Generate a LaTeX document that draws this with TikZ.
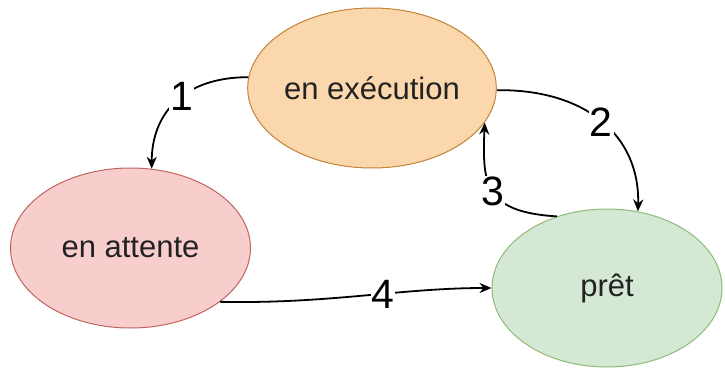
\documentclass[tikz,border=0pt]{standalone}
\usepackage{fontspec}
\setmainfont{Liberation Sans}
\usetikzlibrary{shapes.geometric,arrows.meta}
\definecolor{exfill}{HTML}{FAD7AC}
\definecolor{exdraw}{HTML}{B46504}
\definecolor{atfill}{HTML}{F8CECC}
\definecolor{atdraw}{HTML}{B85450}
\definecolor{prfill}{HTML}{D5E8D4}
\definecolor{prdraw}{HTML}{82B366}
\definecolor{txt}{HTML}{222222}
\tikzset{
  state/.style={ellipse, inner sep=0pt, line width=1pt, text=txt,
    font=\fontsize{31}{31}\selectfont},
  edge/.style={line width=1.8pt, -{Stealth[length=12pt,width=10pt]}},
  lbl/.style={fill=white, inner sep=1pt, font=\fontsize{41}{41}\selectfont}
}
\begin{document}
\begin{tikzpicture}[x=1pt,y=-1pt]
\useasboundingbox (0,0) rectangle (725,369);
\node[state, draw=exdraw!80, fill=exfill, minimum width=240pt, minimum height=160pt] (ex) at (372,88) {en exécution};
\node[state, draw=atdraw!90, fill=atfill, minimum width=240pt, minimum height=160pt] (att) at (130.5,248) {en attente};
\node[state, draw=prdraw!90, fill=prfill, minimum width=230pt, minimum height=158pt] (pret) at (607,288) {prêt};

\draw[edge] (ex.175) .. controls +(-65,0) and +(0,-55) .. node[lbl, pos=0.44] (l1) {1} (att.75);
\draw[edge] (ex.-1) .. controls (585,89) and (640,135) .. node[lbl, pos=0.5] (l2) {2} (pret.68);
\draw[edge] (pret.125) .. controls (485,212) and (482,185) .. node[lbl, pos=0.5] (l3) {3} (ex.-17);
\draw[edge] (att.-31) .. controls (330,304) and (400,288) .. node[lbl, pos=0.58] (l4) {4} (pret.west);
\end{tikzpicture}
\end{document}
